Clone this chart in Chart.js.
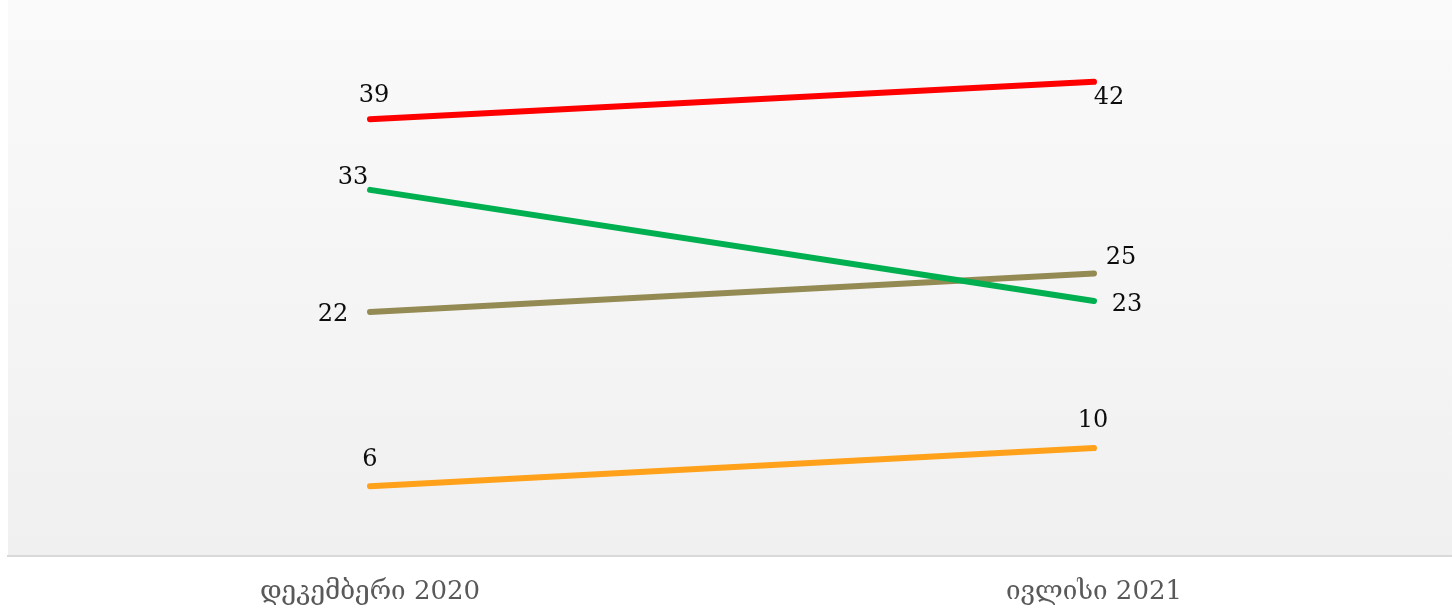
<!DOCTYPE html>
<html>
<head>
<meta charset="utf-8">
<script src="https://cdn.jsdelivr.net/npm/chart.js@4/dist/chart.umd.min.js"></script>
<style>
  html, body { margin: 0; padding: 0; background: #ffffff; overflow: hidden; }
  #wrap { width: 1456px; height: 608px; position: relative; }
</style>
</head>
<body>
<div id="wrap"><canvas id="c"></canvas></div>
<script>
// ---- data ----
const categories = ['დეკემბერი 2020', 'ივლისი 2021'];
const seriesRed    = [38.97, 42.3];
const seriesGreen  = [32.66, 22.75];
const seriesTan    = [21.77, 25.2];
const seriesOrange = [6.23, 9.63];
const yMin = 0;
const yMax = 49.6;

// ---- label placement (style: offset of label centre from point) ----
const labelOffsets = [
  [[4, -23], [15, 16]],    // red
  [[-17, -12], [33, 4]],   // green
  [[-37, 3], [27, -16]],   // tan
  [[0, -26], [-1, -27]]    // orange
];

const bgPlugin = {
  id: 'bg',
  beforeDraw(chart) {
    const { ctx, chartArea: a } = chart;
    const g = ctx.createLinearGradient(0, a.top, 0, a.bottom);
    g.addColorStop(0, '#fafafa');
    g.addColorStop(1, '#f0f0f0');
    ctx.save();
    ctx.fillStyle = g;
    ctx.fillRect(a.left, a.top, a.right - a.left, a.bottom - a.top);
    ctx.restore();
  }
};

const labelPlugin = {
  id: 'vlabels',
  afterDatasetsDraw(chart) {
    const ctx = chart.ctx;
    ctx.save();
    ctx.font = '24px "DejaVu Serif"';
    ctx.fillStyle = '#0d0d0d';
    ctx.textAlign = 'center';
    ctx.textBaseline = 'middle';
    chart.data.datasets.forEach((ds, di) => {
      const meta = chart.getDatasetMeta(di);
      meta.data.forEach((pt, i) => {
        const off = labelOffsets[di][i];
        ctx.fillText(String(Math.round(ds.data[i])), pt.x + off[0], pt.y + off[1]);
      });
    });
    ctx.restore();
  }
};

function ds(data, color) {
  return {
    data: data,
    borderColor: color,
    backgroundColor: color,
    borderWidth: 6,
    borderCapStyle: 'round',
    pointRadius: 0,
    pointHoverRadius: 0,
    tension: 0,
    fill: false
  };
}

new Chart(document.getElementById('c'), {
  type: 'line',
  data: {
    labels: categories,
    datasets: [
      ds(seriesRed, '#ff0000'),
      ds(seriesGreen, '#00b050'),
      ds(seriesTan, '#948a54'),
      ds(seriesOrange, '#ffa11a')
    ]
  },
  options: {
    responsive: true,
    maintainAspectRatio: false,
    animation: false,
    events: [],
    layout: { padding: { left: 8, right: 0, top: 0, bottom: 0 } },
    plugins: { legend: { display: false }, tooltip: { enabled: false } },
    scales: {
      x: {
        offset: true,
        grid: { display: false, drawTicks: false },
        border: { display: true, color: '#d9d9d9', width: 2 },
        ticks: {
          color: '#595959',
          font: { family: '"DejaVu Serif"', size: 26 },
          padding: 21,
          maxRotation: 0
        },
        afterFit(scale) { scale.height = 52; }
      },
      y: {
        display: false,
        min: yMin,
        max: yMax
      }
    }
  },
  plugins: [bgPlugin, labelPlugin]
});
</script>
</body>
</html>
